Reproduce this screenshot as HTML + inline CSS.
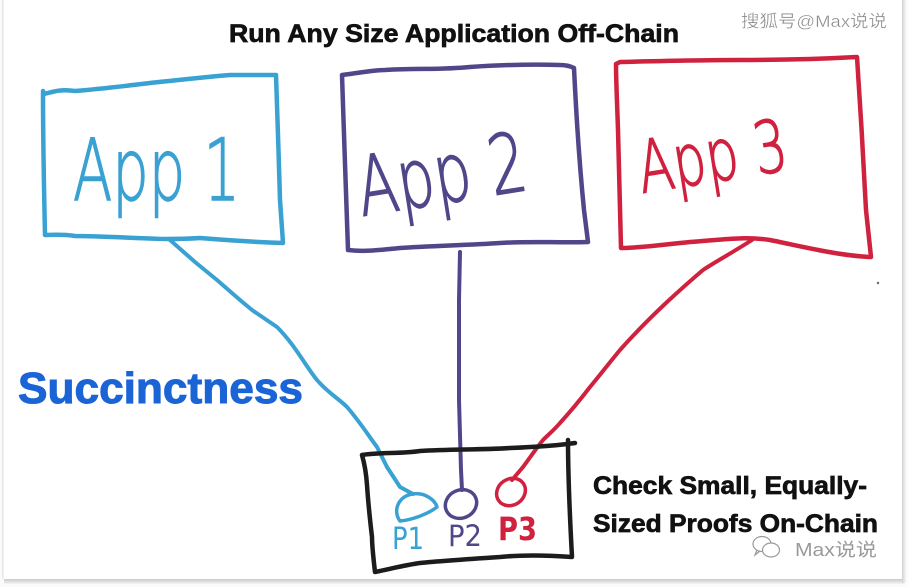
<!DOCTYPE html>
<html>
<head>
<meta charset="utf-8">
<style>
  html,body{margin:0;padding:0;background:#fff;}
  body{width:908px;height:587px;overflow:hidden;position:relative;}
  svg{position:absolute;left:0;top:0;}
</style>
</head>
<body>
<svg width="908" height="587" viewBox="0 0 908 587" xmlns="http://www.w3.org/2000/svg">
  <defs>
    <linearGradient id="shB" x1="0" y1="0" x2="0" y2="1">
      <stop offset="0" stop-color="#c9c9c9"/>
      <stop offset="1" stop-color="#f4f4f4"/>
    </linearGradient>
    <linearGradient id="shR" x1="0" y1="0" x2="1" y2="0">
      <stop offset="0" stop-color="#d2d2d2"/>
      <stop offset="1" stop-color="#f6f6f6"/>
    </linearGradient>
  </defs>

  <!-- card frame -->
  <rect x="0" y="0" width="908" height="587" fill="#fbfbfb"/>
  <rect x="4" y="0" width="898" height="579" fill="#ffffff"/>
  <rect x="2" y="0" width="1.5" height="579" fill="#e6e6e6"/>
  <rect x="4" y="579" width="900" height="5" fill="url(#shB)"/>
  <rect x="902" y="0" width="4" height="583" fill="url(#shR)"/>

  <!-- Title -->
  <text x="229" y="42" font-family="Liberation Sans, sans-serif" font-weight="bold" font-size="25" fill="#111" stroke="#111" stroke-width="0.7" textLength="450" lengthAdjust="spacingAndGlyphs">Run Any Size Application Off-Chain</text>

  <!-- watermark top -->
  <text x="741" y="27" font-family="Liberation Sans, Noto Sans CJK SC, sans-serif" font-size="17" fill="#8a8a8a" stroke="#ffffff" stroke-width="0.3" textLength="146" lengthAdjust="spacingAndGlyphs">搜狐号@Max说说</text>

  <!-- App1 box -->
  <g fill="none" stroke-linecap="round" stroke-linejoin="round">
    <path d="M43,91 L44,94 C55,91 62,89 75,91 C100,89 125,86 150,83 C180,80 205,77 230,75 L276,75 C277,110 279,160 280,200 L283,243 C250,242 225,240 200,238 C185,239 175,239 165,239 C130,238 100,236 75,236 C62,234 52,235 45,235 C44,190 43,140 43,93" stroke="#3aa1d3" stroke-width="4.5"/>
  </g>
  <text x="73" y="200" font-family="DejaVu Sans, sans-serif" font-weight="200" font-size="86" fill="#3aa1d3" stroke="#3aa1d3" stroke-width="1.5" textLength="167" lengthAdjust="spacingAndGlyphs">App 1</text>

  <!-- App2 box -->
  <g fill="none" stroke-linecap="round" stroke-linejoin="round">
    <path d="M342,75 C360,73 372,70 385,70 C420,68 440,70 470,67 C500,65 530,64 560,65 C566,65 570,66 574,68 C576,110 580,170 584,210 L588,242 C560,243 530,241 500,243 C470,245 430,246 400,248 C380,250 365,252 348,250 C346,200 344,130 342,75" stroke="#4f4789" stroke-width="4.5"/>
  </g>
  <text x="362" y="216" transform="rotate(-9 362 216)" font-family="DejaVu Sans, sans-serif" font-weight="200" font-size="82" fill="#4f4789" stroke="#4f4789" stroke-width="1.5" textLength="170" lengthAdjust="spacingAndGlyphs">App 2</text>

  <!-- App3 box -->
  <g fill="none" stroke-linecap="round" stroke-linejoin="round">
    <path d="M616,64 L620,62 C660,61 700,60 740,60 C780,60 820,59 857,57 C860,100 864,170 866,210 L871,257 C840,256 800,246 770,240 C745,236 720,240 690,242 C660,245 640,248 621,248 C620,200 619,160 618,130 M618,130 C617,100 616,80 616,64" stroke="#d0213f" stroke-width="4.5"/>
  </g>
  <text x="642" y="193" transform="rotate(-9 642 193)" font-family="DejaVu Sans, sans-serif" font-weight="200" font-size="72" fill="#d0213f" stroke="#d0213f" stroke-width="1.5" textLength="150" lengthAdjust="spacingAndGlyphs">App 3</text>

  <!-- small dot -->
  <circle cx="878" cy="283" r="1.2" fill="#666"/>

  <!-- Connectors -->
  <g fill="none" stroke-linecap="round" stroke-linejoin="round" stroke-width="4">
    <path d="M170,240 L195,262 L217,280 L240,300 L252,310 L277,327 C295,345 305,365 317,380 C328,393 338,398 347,407 C360,422 368,435 377,447 L387,467 L400,487 L413,494" stroke="#3aa1d3"/>
    <path d="M460,252 L459,300 L459,400 L461,470 L462,490" stroke="#4f4789"/>
    <path d="M752,240 C730,254 715,262 703,270 C690,281 680,290 667,302 C650,318 635,333 620,350 C610,362 600,375 590,387 C580,400 570,412 560,423 C554,430 548,435 543,440 C535,450 529,459 523,467 L512,480" stroke="#d0213f"/>
  </g>

  <!-- Proof box -->
  <path d="M362,455 C380,452 400,454 420,451 C450,449 480,450 510,448 C535,447 555,446 575,443 M568,440 C568,480 570,520 572,557 C545,555 520,555 500,557 C470,559 440,561 420,563 C405,565 390,569 375,572 C373,555 372,545 372,537 C370,520 368,500 367,485 C366,470 364,462 362,455" fill="none" stroke="#1c1c1c" stroke-width="4.5" stroke-linecap="round" stroke-linejoin="round"/>

  <!-- Proof blobs -->
  <g fill="none" stroke-width="3.5" stroke-linecap="round" stroke-linejoin="round">
    <path d="M400,521 C393,512 397,497 412,494 C425,492 435,500 437,507 C428,514 412,520 400,521 Z" stroke="#3aa1d3"/>
    <ellipse cx="461" cy="504" rx="16" ry="14" transform="rotate(-25 461 504)" stroke="#4f4789"/>
    <ellipse cx="511" cy="492" rx="15" ry="13" transform="rotate(-35 511 492)" stroke="#d0213f"/>
  </g>

  <!-- P labels -->
  <text x="392" y="549" font-family="DejaVu Sans, sans-serif" font-size="30" fill="#3aa1d3" textLength="32" lengthAdjust="spacingAndGlyphs">P1</text>
  <text x="448" y="546" font-family="DejaVu Sans, sans-serif" font-size="29" fill="#4f4789" textLength="34" lengthAdjust="spacingAndGlyphs">P2</text>
  <text x="498" y="540" font-family="DejaVu Sans, sans-serif" font-weight="bold" font-size="32" fill="#d0213f" textLength="39" lengthAdjust="spacingAndGlyphs">P3</text>

  <!-- Succinctness -->
  <text x="18" y="403" font-family="Liberation Sans, sans-serif" font-weight="bold" font-size="44" fill="#1a64d6" stroke="#1a64d6" stroke-width="1" textLength="285" lengthAdjust="spacingAndGlyphs">Succinctness</text>

  <!-- Right caption -->
  <text x="593" y="494" font-family="Liberation Sans, sans-serif" font-weight="bold" font-size="25" fill="#111" stroke="#111" stroke-width="0.7" textLength="274" lengthAdjust="spacingAndGlyphs">Check Small, Equally-</text>
  <text x="593" y="532" font-family="Liberation Sans, sans-serif" font-weight="bold" font-size="25" fill="#111" stroke="#111" stroke-width="0.7" textLength="285" lengthAdjust="spacingAndGlyphs">Sized Proofs On-Chain</text>

  <!-- bottom watermark -->
  <g fill="none" stroke="#9a9a9a" stroke-width="1.2">
    <ellipse cx="762" cy="544" rx="9" ry="7.5"/>
    <ellipse cx="771" cy="550" rx="8.5" ry="7" fill="#fff"/>
    <path d="M757,550 L755,555 L760,551"/>
  </g>
  <text x="795" y="556" font-family="Liberation Sans, Noto Sans CJK SC, sans-serif" font-size="18" fill="#9a9a9a" textLength="82" lengthAdjust="spacingAndGlyphs">Max说说</text>
</svg>
</body>
</html>
